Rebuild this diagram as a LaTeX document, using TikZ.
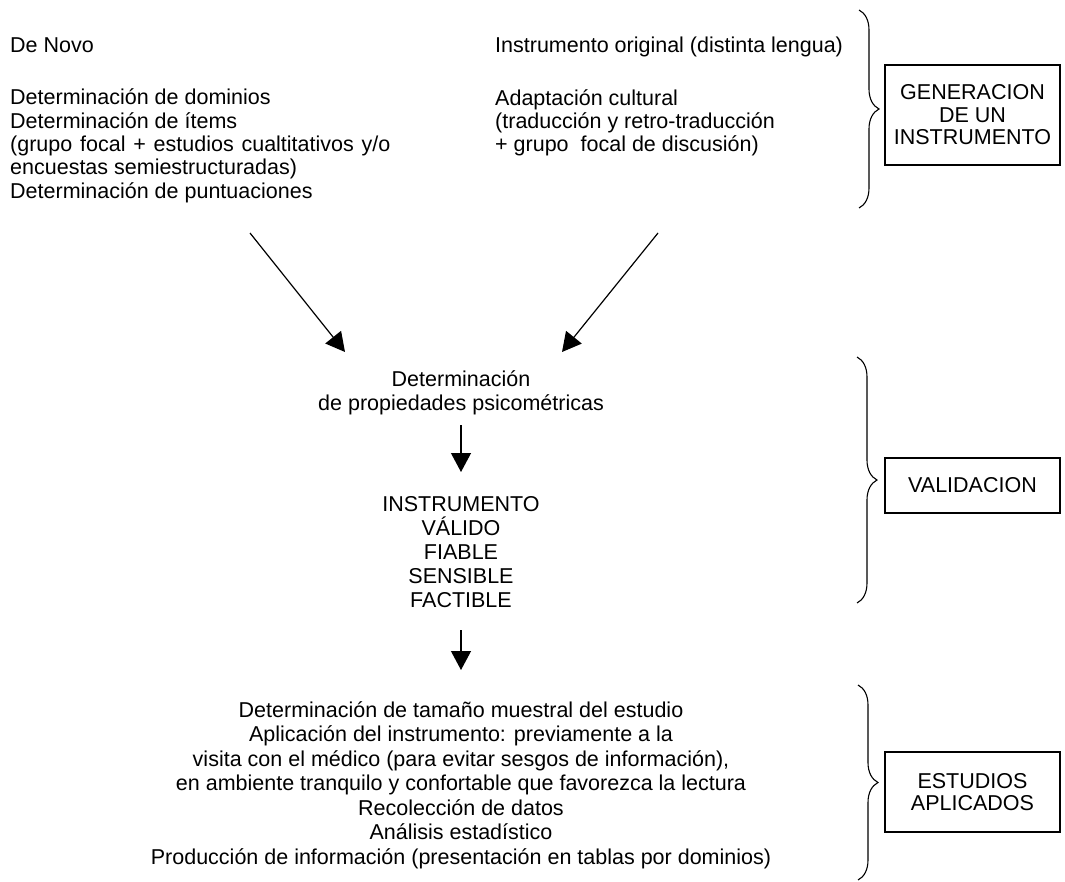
\documentclass[tikz,border=0pt]{standalone}
\usepackage{fontspec}
\setmainfont{Liberation Sans}
\usetikzlibrary{arrows.meta,decorations.pathreplacing}
\begin{document}
\begin{tikzpicture}[x=1pt,y=-1pt,
  txt/.style={inner sep=0pt, font=\fontsize{21.5}{23.3}\selectfont},
  lefttxt/.style={txt, align=left, anchor=base west},
  midtxt/.style={txt, align=center, anchor=base},
  stagebox/.style={draw, line width=1.8pt, minimum width=175pt, align=center, inner sep=0pt, font=\fontsize{21.5}{22.5}\selectfont},
  flow/.style={line width=1.2pt, -{Triangle[length=19pt,width=20pt]}},
  bracepath/.style={line width=1.1pt, decorate, decoration={brace, amplitude=20pt}}
]
\useasboundingbox (0,0) rectangle (1065,881);

% left column (base anchor = baseline of the last line)
\node[lefttxt] (denovo) at (10,52) {De Novo};
\node[lefttxt] (novosteps) at (10,198) {Determinación de dominios\\Determinación de ítems\\(grupo\hspace{7.8pt}focal\hspace{7.8pt}+\hspace{7.8pt}estudios\hspace{7.8pt}cualtitativos\hspace{7.8pt}y/o\\encuestas semiestructuradas)\\Determinación de puntuaciones};

% right column
\node[lefttxt] (orig) at (495,52) {Instrumento original (distinta lengua)};
\node[lefttxt] (adapt) at (495,151.6) {Adaptación cultural\\(traducción y retro-traducción\\+ grupo\ \ focal de discusión)};

% middle
\node[midtxt, font=\fontsize{21.5}{24}\selectfont] (psico) at (461,410) {Determinación\\de propiedades psicométricas};
\node[midtxt, font=\fontsize{21.5}{23.8}\selectfont] (valido) at (461,607) {INSTRUMENTO\\VÁLIDO\\FIABLE\\SENSIBLE\\FACTIBLE};
\node[midtxt, font=\fontsize{21.5}{24.5}\selectfont] (aplic) at (461,864) {Determinación de tamaño muestral del estudio\\Aplicación del instrumento: previamente a la\\visita con el médico (para evitar sesgos de información),\\en ambiente tranquilo y confortable que favorezca la lectura\\Recolección de datos\\Análisis estadístico\\Producción de información (presentación en tablas por dominios)};

% boxes
\node[stagebox, minimum height=100pt] (gen) at (972.5,115) {GENERACION\\DE UN\\INSTRUMENTO};
\node[stagebox, minimum height=55pt] (valid) at (972.5,485.5) {VALIDACION};
\node[stagebox, minimum height=80pt] (estud) at (972.5,792) {ESTUDIOS\\APLICADOS};

% braces
\coordinate (b1t) at (859,10);  \coordinate (b1b) at (859,208);
\coordinate (b2t) at (857,357); \coordinate (b2b) at (857,603);
\coordinate (b3t) at (858,685); \coordinate (b3b) at (858,880);
\draw[bracepath] (b1t) -- (b1b);
\draw[bracepath] (b2t) -- (b2b);
\draw[bracepath] (b3t) -- (b3b);

% arrows
\coordinate (a1s) at (250,233); \coordinate (a1e) at (345,352);
\coordinate (a2s) at (658,233); \coordinate (a2e) at (562,352);
\coordinate (a3s) at (461,425); \coordinate (a3e) at (461,472);
\coordinate (a4s) at (461,630); \coordinate (a4e) at (461,670);
\draw[flow] (a1s) -- (a1e);
\draw[flow] (a2s) -- (a2e);
\draw[flow] (a3s) -- (a3e);
\draw[flow] (a4s) -- (a4e);
\end{tikzpicture}
\end{document}
